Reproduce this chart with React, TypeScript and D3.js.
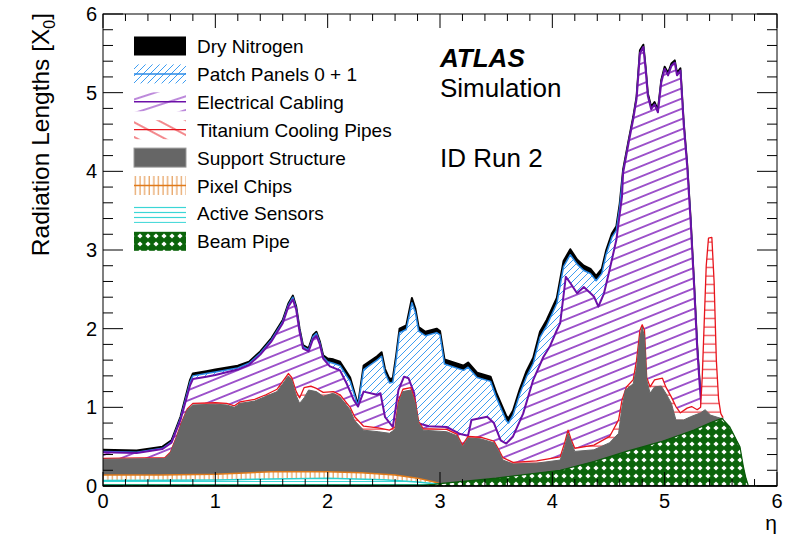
import React from 'react';
import * as d3 from 'd3';

type P = [number, number];

const etaTicks = [0, 1, 2, 3, 4, 5, 6];
const valueTicks = [0, 1, 2, 3, 4, 5, 6];
const legendLabels = [
  'Dry Nitrogen',
  'Patch Panels 0 + 1',
  'Electrical Cabling',
  'Titanium Cooling Pipes',
  'Support Structure',
  'Pixel Chips',
  'Active Sensors',
  'Beam Pipe',
];

// cumulative tops of each stacked component, [eta, X0]
const dryNitrogenTop: P[] = [[0,0.46],[0.3,0.45],[0.53,0.5],[0.61,0.58],[0.69,0.88],[0.775,1.35],[0.8,1.43],[0.92,1.46],[1.0,1.48],[1.2,1.53],[1.3,1.58],[1.4,1.71],[1.5,1.88],[1.6,2.11],[1.65,2.32],[1.69,2.42],[1.72,2.28],[1.75,2.0],[1.78,1.79],[1.83,1.75],[1.87,1.92],[1.9,1.96],[1.93,1.84],[1.96,1.66],[2.0,1.62],[2.05,1.61],[2.11,1.58],[2.2,1.38],[2.27,1.03],[2.32,1.53],[2.44,1.65],[2.48,1.7],[2.51,1.49],[2.55,1.36],[2.58,1.37],[2.61,1.66],[2.64,2.0],[2.7,2.04],[2.75,2.39],[2.78,2.26],[2.81,2.02],[2.87,1.96],[2.97,2.0],[3.0,1.97],[3.04,1.61],[3.21,1.53],[3.25,1.57],[3.33,1.44],[3.45,1.39],[3.5,1.19],[3.59,0.89],[3.61,0.86],[3.65,0.96],[3.71,1.23],[3.77,1.46],[3.83,1.63],[3.89,1.96],[3.95,2.11],[4.04,2.39],[4.1,2.86],[4.16,3.01],[4.22,2.88],[4.28,2.8],[4.34,2.76],[4.39,2.67],[4.44,2.76],[4.48,3.0],[4.53,3.21],[4.57,3.3],[4.6,3.59],[4.63,4.02],[4.68,4.4],[4.72,4.69],[4.75,4.95],[4.78,5.54],[4.81,5.61],[4.83,5.33],[4.85,4.99],[4.88,4.82],[4.91,4.88],[4.94,4.78],[4.97,5.16],[5.0,5.33],[5.03,5.25],[5.06,5.37],[5.09,5.41],[5.11,5.25],[5.14,5.31],[5.17,4.61],[5.2,4.1],[5.23,3.42],[5.26,2.62],[5.29,1.77],[5.31,1.35],[5.33,0.96],[5.5,0.86],[5.52,0.86]];

const patchPanelsTop: P[] = [[0,0.44],[0.3,0.43],[0.53,0.48],[0.61,0.56],[0.69,0.86],[0.775,1.32],[0.8,1.4],[0.92,1.43],[1.0,1.45],[1.2,1.5],[1.3,1.56],[1.4,1.69],[1.5,1.86],[1.6,2.09],[1.65,2.3],[1.69,2.4],[1.72,2.26],[1.75,1.98],[1.78,1.77],[1.83,1.73],[1.87,1.9],[1.9,1.94],[1.93,1.82],[1.96,1.64],[2.0,1.58],[2.05,1.56],[2.11,1.53],[2.2,1.33],[2.27,1.015],[2.32,1.48],[2.44,1.6],[2.48,1.65],[2.51,1.44],[2.55,1.31],[2.58,1.32],[2.61,1.61],[2.64,1.95],[2.7,1.99],[2.75,2.33],[2.78,2.21],[2.81,1.97],[2.87,1.91],[2.97,1.95],[3.0,1.92],[3.04,1.55],[3.21,1.47],[3.25,1.51],[3.33,1.38],[3.45,1.33],[3.5,1.13],[3.59,0.83],[3.61,0.8],[3.65,0.9],[3.71,1.17],[3.77,1.39],[3.83,1.56],[3.89,1.89],[3.95,2.04],[4.04,2.32],[4.1,2.79],[4.16,2.94],[4.22,2.82],[4.28,2.74],[4.34,2.7],[4.39,2.61],[4.44,2.7],[4.48,2.95],[4.53,3.16],[4.57,3.25],[4.6,3.55],[4.63,3.99]];

const cablingTop: P[] = [[0,0.43],[0.3,0.42],[0.53,0.47],[0.61,0.55],[0.69,0.84],[0.775,1.28],[0.8,1.36],[0.92,1.39],[1.0,1.41],[1.2,1.48],[1.3,1.54],[1.4,1.67],[1.5,1.84],[1.6,2.07],[1.65,2.28],[1.69,2.37],[1.72,2.24],[1.75,1.96],[1.78,1.75],[1.83,1.71],[1.87,1.87],[1.9,1.91],[1.93,1.8],[1.96,1.62],[2.02,1.52],[2.11,1.47],[2.17,1.3],[2.23,1.1],[2.27,1.01],[2.32,1.2],[2.44,1.16],[2.47,1.18],[2.51,0.88],[2.58,0.75],[2.63,1.22],[2.68,1.39],[2.72,1.37],[2.77,1.18],[2.8,0.8],[2.9,0.76],[3.06,0.75],[3.18,0.66],[3.25,0.64],[3.28,0.84],[3.42,0.88],[3.48,0.8],[3.54,0.58],[3.59,0.54],[3.65,0.63],[3.74,0.92],[3.83,1.35],[3.92,1.64],[3.98,1.78],[4.04,1.98],[4.07,2.07],[4.12,2.66],[4.16,2.58],[4.22,2.45],[4.28,2.53],[4.34,2.45],[4.37,2.41],[4.41,2.28],[4.46,2.45],[4.51,2.75],[4.57,3.13],[4.62,3.68],[4.63,3.98],[4.68,4.37],[4.72,4.66],[4.75,4.92],[4.78,5.5],[4.81,5.58],[4.83,5.3],[4.85,4.96],[4.88,4.79],[4.91,4.85],[4.94,4.75],[4.97,5.13],[5.0,5.3],[5.03,5.22],[5.06,5.34],[5.09,5.38],[5.11,5.22],[5.14,5.28],[5.17,4.58],[5.2,4.07],[5.23,3.39],[5.26,2.59],[5.29,1.74],[5.31,1.32],[5.33,0.95],[5.5,0.85],[5.52,0.86]];

const coolingTop: P[] = [[0,0.35],[0.55,0.36],[0.6,0.43],[0.65,0.61],[0.7,0.81],[0.75,0.98],[0.8,1.05],[1.0,1.06],[1.1,1.05],[1.17,1.02],[1.22,1.07],[1.35,1.1],[1.45,1.16],[1.55,1.23],[1.6,1.33],[1.65,1.43],[1.68,1.38],[1.72,1.2],[1.75,1.12],[1.79,1.25],[1.85,1.27],[1.9,1.24],[1.96,1.19],[2.05,1.2],[2.11,1.16],[2.2,1.0],[2.24,0.88],[2.32,0.76],[2.45,0.74],[2.55,0.71],[2.6,0.75],[2.63,1.08],[2.67,1.23],[2.74,1.25],[2.78,1.08],[2.81,0.82],[2.85,0.73],[3.06,0.72],[3.15,0.66],[3.2,0.52],[3.25,0.63],[3.36,0.62],[3.48,0.57],[3.52,0.47],[3.56,0.36],[3.65,0.3],[3.86,0.32],[4.07,0.37],[4.11,0.55],[4.14,0.71],[4.17,0.58],[4.2,0.48],[4.37,0.52],[4.51,0.63],[4.59,0.84],[4.62,1.09],[4.66,1.26],[4.72,1.35],[4.75,1.6],[4.78,1.98],[4.8,2.05],[4.82,1.98],[4.84,1.38],[4.87,1.26],[4.91,1.35],[4.98,1.37],[5.01,1.26],[5.06,1.13],[5.1,1.01],[5.14,0.93],[5.2,0.99],[5.24,1.01],[5.29,0.97],[5.32,1.0],[5.335,1.4],[5.35,2.0],[5.37,2.8],[5.39,3.15],[5.42,3.16],[5.44,2.6],[5.46,1.6],[5.48,1.1],[5.5,0.92],[5.52,0.87]];

const supportTop: P[] = [[0,0.34],[0.55,0.35],[0.6,0.42],[0.65,0.6],[0.7,0.8],[0.75,0.97],[0.8,1.03],[1.0,1.04],[1.1,1.03],[1.17,1.0],[1.22,1.05],[1.35,1.08],[1.45,1.14],[1.55,1.2],[1.6,1.3],[1.65,1.4],[1.68,1.35],[1.72,1.15],[1.75,1.05],[1.79,1.12],[1.83,1.22],[1.9,1.2],[1.96,1.14],[2.05,1.18],[2.11,1.13],[2.2,0.97],[2.24,0.83],[2.32,0.71],[2.45,0.69],[2.55,0.67],[2.6,0.72],[2.63,1.05],[2.67,1.2],[2.74,1.22],[2.78,1.05],[2.81,0.8],[2.85,0.71],[3.06,0.69],[3.15,0.64],[3.2,0.5],[3.25,0.61],[3.36,0.6],[3.48,0.55],[3.52,0.45],[3.56,0.33],[3.65,0.28],[3.86,0.29],[4.07,0.33],[4.11,0.5],[4.14,0.67],[4.17,0.55],[4.2,0.44],[4.37,0.46],[4.51,0.55],[4.59,0.67],[4.62,1.0],[4.65,1.22],[4.72,1.3],[4.75,1.5],[4.78,1.9],[4.8,2.02],[4.82,1.9],[4.84,1.35],[4.87,1.18],[4.91,1.26],[4.97,1.27],[5.01,1.18],[5.06,1.05],[5.1,0.84],[5.17,0.84],[5.23,0.88],[5.32,0.93],[5.36,0.97],[5.41,0.9],[5.5,0.86],[5.52,0.86]];

const pixelChipsTop: P[] = [[0,0.14],[0.5,0.14],[1.0,0.15],[1.5,0.18],[2.0,0.18],[2.3,0.17],[2.6,0.14],[2.8,0.1],[2.95,0.05],[3.0,0.03]];

const activeSensorsTop: P[] = [[0,0.07],[1.0,0.075],[1.5,0.09],[2.0,0.1],[2.5,0.08],[2.8,0.05],[2.95,0.03],[3.0,0.03]];

const beamPipeTop: P[] = [[0,0.01],[2.85,0.01],[2.95,0.02],[3.0,0.03],[3.5,0.1],[4.07,0.2],[4.37,0.31],[4.66,0.44],[4.96,0.56],[5.26,0.71],[5.4,0.8],[5.51,0.86],[5.58,0.75],[5.64,0.58],[5.67,0.5],[5.7,0.25],[5.72,0.12],[5.745,0.0],[6,0]];

const W = 800, H = 538;
const PL = 103, PR = 777, PT = 14, PB = 486;
const FONT = "'Liberation Sans', Arial, Helvetica, sans-serif";

export default function App() {
  const x = d3.scaleLinear().domain([0, 6]).range([PL, PR]);
  const y = d3.scaleLinear().domain([0, 6]).range([PB, PT]);
  const area = d3.area<P>().x(d => x(d[0])).y0(y(0)).y1(d => y(d[1]));
  const line = d3.line<P>().x(d => x(d[0])).y(d => y(d[1]));

  const patchFull: P[] = [...patchPanelsTop, ...cablingTop.filter(d => d[0] > patchPanelsTop[patchPanelsTop.length - 1][0])];

  const layers = [
    { data: dryNitrogenTop, fill: '#000', pat: null, stroke: '#000', sw: 2 },
    { data: patchFull, fill: '#fff', pat: 'pPatch', stroke: '#2a8ae6', sw: 1.5 },
    { data: cablingTop, fill: '#fff', pat: 'pCabling', stroke: '#6c10a8', sw: 2 },
    { data: coolingTop, fill: '#fff', pat: 'pCool', stroke: '#e8141c', sw: 1.3 },
    { data: supportTop, fill: '#666', pat: null, stroke: '#666', sw: 1 },
    { data: pixelChipsTop, fill: '#fff', pat: 'pPixel', stroke: '#e07a1a', sw: 1.5 },
    { data: activeSensorsTop, fill: '#fff', pat: 'pSensor', stroke: '#2ccfcf', sw: 1.5 },
    { data: beamPipeTop, fill: '#0b640b', pat: 'pBeam', stroke: '#0b5a0b', sw: 1.2 },
  ];

  const minorX = d3.range(0, 6.0001, 0.2);
  const minorY = d3.range(0, 6.0001, 0.2);

  const rowY = (i: number) => 46 + i * 27.9;

  const legendSwatch = (i: number) => {
    const bx = 134, bw = 52, bh = 19, by = rowY(i) - bh / 2;
    const cy = rowY(i);
    switch (i) {
      case 0: return <rect x={bx} y={by} width={bw} height={bh} fill="#000" />;
      case 1: return <g><rect x={bx} y={by} width={bw} height={bh} fill="url(#pPatch)" /><line x1={bx} x2={bx + bw} y1={cy} y2={cy} stroke="#2a8ae6" strokeWidth={1.5} /></g>;
      case 2: return <g><rect x={bx} y={by} width={bw} height={bh} fill="url(#pCablingL)" /><line x1={bx} x2={bx + bw} y1={cy} y2={cy} stroke="#6c10a8" strokeWidth={1.5} /></g>;
      case 3: return <g><rect x={bx} y={by} width={bw} height={bh} fill="url(#pCoolL)" /><line x1={bx} x2={bx + bw} y1={cy} y2={cy} stroke="#e8141c" strokeWidth={1.3} /></g>;
      case 4: return <rect x={bx} y={by} width={bw} height={bh} fill="#666" stroke="#999" strokeWidth={1} />;
      case 5: return <g><rect x={bx} y={by} width={bw} height={bh} fill="url(#pPixel)" /><line x1={bx} x2={bx + bw} y1={cy} y2={cy} stroke="#e07a1a" strokeWidth={1.3} /></g>;
      case 6: return <g><rect x={bx} y={by} width={bw} height={bh} fill="url(#pSensorL)" /></g>;
      default: return <rect x={bx} y={by} width={bw} height={bh} fill="url(#pBeam)" />;
    }
  };

  return (
    <svg width={W} height={H} style={{ position: 'absolute', left: 0, top: 0, background: '#fff' }} fontFamily={FONT}>
      <defs>
        <clipPath id="plotClip"><rect x={PL} y={PT} width={PR - PL} height={PB - PT} /></clipPath>
        <pattern id="pPatch" patternUnits="userSpaceOnUse" width={7} height={7}>
          <path d="M-1,1 l2,-2 M0,7 l7,-7 M6,8 l2,-2" stroke="#3d9df2" strokeWidth={1} />
        </pattern>
        <pattern id="pCabling" patternUnits="userSpaceOnUse" width={60} height={9.5} patternTransform="rotate(-22)">
          <line x1={0} x2={60} y1={4.75} y2={4.75} stroke="#7b16b8" strokeWidth={1.2} />
        </pattern>
        <pattern id="pCablingL" patternUnits="userSpaceOnUse" width={60} height={13} patternTransform="rotate(-18)">
          <line x1={0} x2={60} y1={6} y2={6} stroke="#7b16b8" strokeWidth={1.2} />
        </pattern>
        <pattern id="pCool" patternUnits="userSpaceOnUse" width={20} height={8.5}>
          <line x1={0} x2={20} y1={4} y2={4} stroke="#e8141c" strokeWidth={1} />
        </pattern>
        <pattern id="pCoolL" patternUnits="userSpaceOnUse" width={60} height={13} patternTransform="rotate(28)">
          <line x1={0} x2={60} y1={6} y2={6} stroke="#e8141c" strokeWidth={1.2} />
        </pattern>
        <pattern id="pPixel" patternUnits="userSpaceOnUse" width={4.6} height={20}>
          <line x1={2} x2={2} y1={0} y2={20} stroke="#e08a3a" strokeWidth={1} />
        </pattern>
        <pattern id="pSensor" patternUnits="userSpaceOnUse" width={20} height={3}>
          <line x1={0} x2={20} y1={1.5} y2={1.5} stroke="#3ad6d6" strokeWidth={1} />
        </pattern>
        <pattern id="pSensorL" patternUnits="userSpaceOnUse" width={20} height={5}>
          <line x1={0} x2={20} y1={2.5} y2={2.5} stroke="#3ad6d6" strokeWidth={1.2} />
        </pattern>
        <pattern id="pBeam" patternUnits="userSpaceOnUse" width={8} height={8}>
          <rect x={0} y={0} width={8} height={8} fill="#0b640b" />
          <path d="M4,1.4 L6.6,4 L4,6.6 L1.4,4 Z" fill="#fff" />
        </pattern>
      </defs>

      <rect x={0} y={0} width={W} height={H} fill="#fff" />

      <g clipPath="url(#plotClip)">
        {layers.map((L, i) => (
          <g key={i}>
            <path d={area(L.data) || ''} fill={L.fill} />
            {L.pat && <path d={area(L.data) || ''} fill={`url(#${L.pat})`} />}
            <path d={line(L.data) || ''} fill="none" stroke={L.stroke} strokeWidth={L.sw} strokeLinejoin="round" />
          </g>
        ))}
      </g>

      {/* frame */}
      <rect x={PL} y={PT} width={PR - PL} height={PB - PT} fill="none" stroke="#000" strokeWidth={1} />
      <line x1={PL} x2={PR} y1={PB} y2={PB} stroke="#000" strokeWidth={1.5} />

      {minorX.map((v, i) => {
        const major = Math.abs(v - Math.round(v)) < 1e-6;
        const len = major ? 14 : 7;
        return (
          <g key={'xt' + i}>
            <line x1={x(v)} x2={x(v)} y1={PB} y2={PB - len} stroke="#000" strokeWidth={1} />
            <line x1={x(v)} x2={x(v)} y1={PT} y2={PT + len} stroke="#000" strokeWidth={1} />
          </g>
        );
      })}
      {minorY.map((v, i) => {
        const major = Math.abs(v - Math.round(v)) < 1e-6;
        const len = major ? 20 : 10;
        return (
          <g key={'yt' + i}>
            <line x1={PL} x2={PL + len} y1={y(v)} y2={y(v)} stroke="#000" strokeWidth={1} />
            <line x1={PR} x2={PR - len} y1={y(v)} y2={y(v)} stroke="#000" strokeWidth={1} />
          </g>
        );
      })}

      {etaTicks.map(v => (
        <text key={'xl' + v} x={x(v)} y={508} fontSize={20} textAnchor="middle" fill="#000">{v}</text>
      ))}
      {valueTicks.map(v => (
        <text key={'yl' + v} x={97} y={y(v) + 7} fontSize={20} textAnchor="end" fill="#000">{v}</text>
      ))}

      <text x={777} y={530} fontSize={21} textAnchor="end" fill="#000">η</text>

      <text transform={`translate(49,13) rotate(-90)`} fontSize={24.5} textAnchor="end" fill="#000">
        Radiation Lengths [X<tspan fontSize={16} dy={6}>0</tspan><tspan dy={-6}>]</tspan>
      </text>

      {legendLabels.map((lab, i) => (
        <g key={'lg' + i}>
          {legendSwatch(i)}
          <text x={197} y={rowY(i) + 7} fontSize={19} fill="#000">{lab}</text>
        </g>
      ))}

      <text x={440} y={67} fontSize={26} fontWeight="bold" fontStyle="italic" fill="#000">ATLAS</text>
      <text x={440} y={97} fontSize={26} fill="#000">Simulation</text>
      <text x={440} y={167} fontSize={26} fill="#000">ID Run 2</text>
    </svg>
  );
}
